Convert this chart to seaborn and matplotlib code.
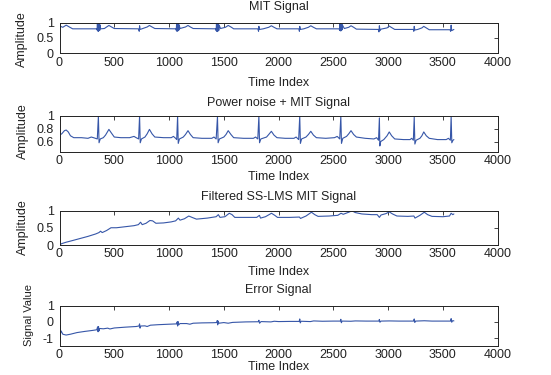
import matplotlib
matplotlib.use('Agg')
from matplotlib import pyplot as plt
import seaborn as sns

# MIT signal
mit_x = [0, 2, 10, 30, 61, 90, 120, 340,
         343, 346, 349, 352, 355, 358, 361, 364, 367, 370, 374,
         410, 430, 451, 475, 500, 720, 728, 731, 736, 760, 800, 821, 845, 870, 1063,
         1066, 1069, 1072, 1075, 1078, 1081, 1084, 1087, 1090, 1093,
         1100, 1150, 1173, 1195, 1220, 1428,
         1430, 1433, 1436, 1439, 1442, 1445, 1448, 1451, 1454, 1457,
         1470, 1515, 1540, 1565, 1590, 1810, 1817, 1820, 1826, 1860, 1910, 1934, 1958, 1985,
         2185, 2190, 2193, 2199, 2230, 2272, 2294, 2318, 2345, 2553,
         2556, 2559, 2562, 2565, 2568, 2571, 2574, 2577, 2580, 2583,
         2600, 2640, 2661, 2685, 2710, 2910, 2916, 2920, 2926, 2935, 2990, 3010, 3032, 3060,
         3230, 3234, 3238, 3244, 3270, 3308, 3325, 3348, 3375, 3565, 3570, 3575, 3580, 3600]
mit_y = [0.35, 0.95, 0.88, 0.85, 0.92, 0.86, 0.80, 0.80,
         0.76, 0.98, 0.73, 0.99, 0.72, 0.97, 0.74, 0.96, 0.75, 0.93, 0.80,
         0.81, 0.86, 0.91, 0.86, 0.81, 0.80, 0.72, 0.90, 0.78, 0.81, 0.86, 0.91, 0.86, 0.81, 0.80,
         0.75, 0.98, 0.72, 0.99, 0.73, 0.97, 0.74, 0.96, 0.76, 0.92,
         0.81, 0.86, 0.91, 0.86, 0.81, 0.80,
         0.74, 0.99, 0.72, 0.98, 0.71, 0.97, 0.73, 0.96, 0.75, 0.92,
         0.81, 0.85, 0.91, 0.86, 0.80, 0.80, 0.72, 0.88, 0.78, 0.80, 0.85, 0.90, 0.85, 0.80,
         0.80, 0.72, 0.88, 0.78, 0.80, 0.85, 0.90, 0.85, 0.80, 0.80,
         0.76, 0.97, 0.74, 0.98, 0.73, 0.96, 0.75, 0.95, 0.77, 0.92,
         0.81, 0.85, 0.90, 0.85, 0.79, 0.78, 0.70, 0.90, 0.74, 0.79, 0.83, 0.89, 0.84, 0.78,
         0.78, 0.72, 0.88, 0.76, 0.78, 0.83, 0.88, 0.83, 0.77, 0.77, 0.72, 0.92, 0.74, 0.78]

# power noise + MIT signal
noisy_x = [0, 20, 45, 61, 80, 100, 130, 200, 260, 290, 310, 345, 355, 361, 372,
           400, 420, 451, 475, 500, 560, 640, 680, 700, 722, 731, 737, 748,
           780, 800, 821, 845, 870, 950, 1020, 1040, 1060, 1070, 1078, 1084, 1095,
           1130, 1150, 1173, 1195, 1220, 1300, 1390, 1410, 1430, 1442, 1448, 1460,
           1500, 1520, 1540, 1565, 1590, 1680, 1770, 1790, 1810, 1820, 1826, 1838,
           1890, 1910, 1934, 1958, 1985, 2060, 2140, 2160, 2183, 2193, 2199, 2210,
           2250, 2272, 2294, 2318, 2345, 2430, 2510, 2535, 2558, 2568, 2574, 2586,
           2620, 2640, 2661, 2685, 2710, 2790, 2870, 2895, 2912, 2920, 2924, 2932,
           2960, 2990, 3010, 3032, 3060, 3140, 3200, 3215, 3230, 3238, 3244, 3255,
           3290, 3308, 3325, 3348, 3375, 3450, 3530, 3550, 3568, 3575, 3581, 3592, 3600]
noisy_y = [0.70, 0.72, 0.77, 0.78, 0.75, 0.69, 0.66, 0.66, 0.65, 0.67, 0.66, 0.64, 1.00, 0.58, 0.64,
           0.66, 0.70, 0.79, 0.73, 0.67, 0.66, 0.66, 0.68, 0.66, 0.64, 1.00, 0.58, 0.64,
           0.67, 0.72, 0.79, 0.72, 0.67, 0.66, 0.66, 0.68, 0.65, 0.63, 1.00, 0.57, 0.64,
           0.67, 0.71, 0.77, 0.71, 0.66, 0.65, 0.65, 0.67, 0.64, 0.99, 0.58, 0.64,
           0.67, 0.71, 0.77, 0.71, 0.66, 0.65, 0.65, 0.67, 0.64, 1.00, 0.58, 0.64,
           0.67, 0.71, 0.76, 0.70, 0.66, 0.65, 0.65, 0.67, 0.63, 1.00, 0.57, 0.64,
           0.67, 0.71, 0.76, 0.70, 0.66, 0.65, 0.66, 0.68, 0.64, 1.00, 0.57, 0.65,
           0.68, 0.72, 0.77, 0.71, 0.67, 0.65, 0.64, 0.66, 0.62, 0.97, 0.53, 0.60,
           0.63, 0.69, 0.75, 0.69, 0.64, 0.63, 0.63, 0.65, 0.62, 0.98, 0.56, 0.62,
           0.65, 0.69, 0.75, 0.69, 0.65, 0.63, 0.63, 0.65, 0.62, 1.00, 0.58, 0.62, 0.63]

# filtered SS-LMS output
filt_x = [0, 20, 60, 120, 190, 260, 330, 360, 375, 390, 430, 470, 520, 600, 680, 720, 740, 755,
          790, 825, 850, 880, 950, 1020, 1060, 1085, 1100, 1140, 1180, 1210, 1250, 1350, 1430,
          1450, 1465, 1510, 1550, 1575, 1600, 1700, 1800, 1825, 1835, 1880, 1935, 1965, 1990,
          2100, 2190, 2200, 2250, 2300, 2330, 2360, 2460, 2540, 2570, 2590, 2640, 2670, 2700,
          2760, 2850, 2900, 2920, 2935, 2980, 3010, 3040, 3080, 3180, 3235, 3245, 3290, 3330,
          3360, 3400, 3500, 3560, 3575, 3590, 3600]
filt_y = [0.00, 0.04, 0.08, 0.13, 0.19, 0.25, 0.32, 0.36, 0.40, 0.36, 0.42, 0.50, 0.50, 0.53, 0.56, 0.59, 0.66, 0.59,
          0.63, 0.71, 0.70, 0.63, 0.64, 0.67, 0.70, 0.78, 0.72, 0.76, 0.84, 0.80, 0.75, 0.78, 0.82,
          0.88, 0.80, 0.82, 0.92, 0.88, 0.80, 0.80, 0.80, 0.86, 0.78, 0.82, 0.92, 0.86, 0.80,
          0.80, 0.81, 0.77, 0.84, 0.95, 0.88, 0.83, 0.84, 0.86, 0.92, 0.89, 0.95, 0.99, 0.94,
          0.90, 0.88, 0.88, 0.80, 0.87, 0.91, 0.96, 0.90, 0.84, 0.83, 0.84, 0.78, 0.86, 0.95,
          0.88, 0.83, 0.82, 0.84, 0.92, 0.88, 0.90]

# error signal
err_x = [0, 3, 6, 9, 15, 30, 60, 100, 160, 230, 300, 340, 348, 352, 356, 360, 366, 400, 440, 460,
         500, 600, 700, 725, 731, 735, 742, 780, 800, 830, 900, 1000, 1070, 1074, 1078, 1082, 1088,
         1100, 1160, 1190, 1220, 1300, 1400, 1436, 1440, 1444, 1448, 1455, 1500, 1540, 1580, 1700,
         1815, 1820, 1826, 1840, 1930, 1960, 2000, 2100, 2188, 2193, 2198, 2205, 2290, 2320, 2400,
         2500, 2563, 2568, 2573, 2580, 2660, 2700, 2800, 2915, 2920, 2925, 2935, 3010, 3100, 3232,
         3238, 3243, 3250, 3330, 3400, 3500, 3570, 3575, 3580, 3590, 3600]
err_y = [0.05, -0.75, -0.20, -0.70, -0.55, -0.75, -0.80, -0.75, -0.65, -0.58, -0.52, -0.48, -0.30, -0.60, -0.28, -0.55, -0.40, -0.42, -0.38, -0.43,
         -0.37, -0.32, -0.28, -0.25, -0.12, -0.38, -0.25, -0.24, -0.28, -0.20, -0.17, -0.14, -0.12, 0.00, -0.25, 0.02, -0.18,
         -0.10, -0.10, -0.14, -0.08, -0.06, -0.05, -0.04, 0.08, -0.18, 0.05, -0.08, -0.04, -0.08, -0.03, 0.00,
         0.01, 0.10, -0.08, 0.02, 0.00, 0.04, 0.02, 0.03, 0.03, 0.18, -0.06, 0.04, 0.02, 0.06, 0.04,
         0.05, 0.05, 0.16, -0.05, 0.05, 0.04, 0.06, 0.05, 0.05, 0.15, -0.02, 0.05, 0.06, 0.05, 0.05,
         0.18, -0.03, 0.05, 0.07, 0.05, 0.05, 0.05, 0.20, -0.02, 0.08, 0.06]

x_ticks = [0, 500, 1000, 1500, 2000, 2500, 3000, 3500, 4000]
x_tick_labels = ['0', '500', '1000', '1500', '2000', '2500', '3000', '3500', '4000']
titles = ['MIT Signal', 'Power noise + MIT Signal', 'Filtered SS-LMS MIT Signal', 'Error Signal']
y_labels = ['Amplitude', 'Amplitude', 'Amplitude', 'Signal Value']
y_ticks = [[0, 0.5, 1], [0.6, 0.8, 1], [0, 0.5, 1], [-1, 0, 1]]
y_tick_labels = [['0', '0.5', '1'], ['0.6', '0.8', '1'], ['0', '0.5', '1'], ['-1', '0', '1']]
y_limits = [(0, 1), (0.44, 1.0), (0, 1), (-1.45, 1.0)]

sns.set_style('white')
plt.rcParams['font.family'] = ['Liberation Sans', 'DejaVu Sans']

W, H = 551, 375
fig = plt.figure(figsize=(W / 100, H / 100), dpi=100)

# panel boxes in pixels: top, bottom (left/right shared)
left_px, right_px = 59.5, 497.7
boxes = [(22.7, 53.3), (116.0, 151.7), (210.5, 245.0), (305.5, 345.7)]
title_gap = [15.4, 13.0, 13.2, 15.5]      # px above box
xlabel_gap = [29.7, 25.6, 27.3, 21.3]     # px below box
ylabel_pos = [(21.7, 38.9), (23.3, 130.8), (23.3, 227.4), (29.0, 315.0)]
ylabel_size = [9, 9, 9, 8]

series = [(mit_x, mit_y), (noisy_x, noisy_y), (filt_x, filt_y), (err_x, err_y)]
line_color = '#3656a8'

for i, (xs, ys) in enumerate(series):
    top, bottom = boxes[i]
    h_px = bottom - top
    ax = fig.add_axes([left_px / W, 1 - bottom / H, (right_px - left_px) / W, h_px / H])
    sns.lineplot(x=xs, y=ys, ax=ax, sort=False, estimator=None, color=line_color, linewidth=0.8)

    ax.set_xlim(0, 4000)
    ax.set_ylim(*y_limits[i])
    ax.set_xticks(x_ticks)
    ax.set_xticklabels(x_tick_labels)
    ax.set_yticks(y_ticks[i])
    ax.set_yticklabels(y_tick_labels[i])
    ax.tick_params(direction='in', top=True, right=True, length=3, width=0.6,
                   labelsize=9, colors='#222222')
    ax.tick_params(axis='x', pad=2.5)
    ax.tick_params(axis='y', pad=4)
    for sp in ax.spines.values():
        sp.set_color('#222222')
        sp.set_linewidth(0.7)

    ax.set_title(titles[i], fontsize=9, color='#222222', pad=0, va='center',
                 y=1 + title_gap[i] / h_px)
    ax.set_xlabel('Time Index', fontsize=9, color='#222222', va='center')
    ax.xaxis.set_label_coords(0.5, -xlabel_gap[i] / h_px)
    ax.set_ylabel(y_labels[i], fontsize=ylabel_size[i], color='#222222', va='center')
    lx, ly = ylabel_pos[i]
    ax.yaxis.set_label_coords((lx - left_px) / (right_px - left_px), (bottom - ly) / h_px)

fig.savefig('out.png', dpi=100)
